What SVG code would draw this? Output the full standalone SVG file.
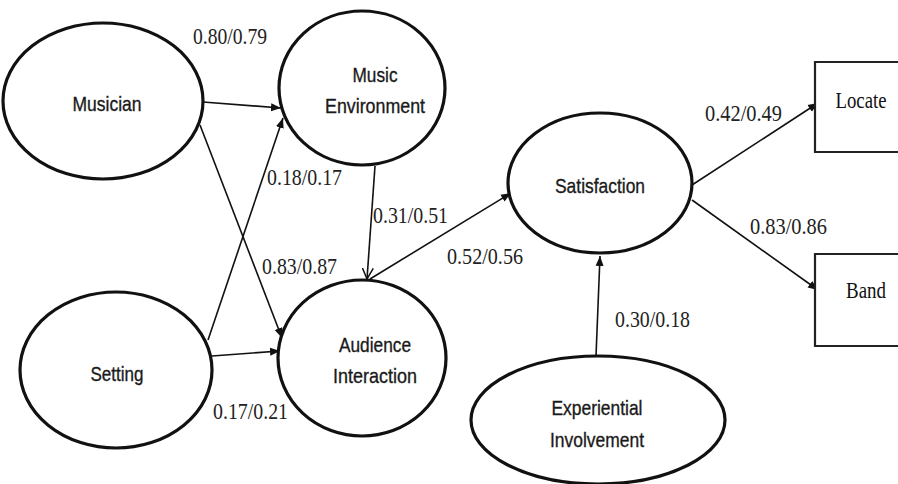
<svg xmlns="http://www.w3.org/2000/svg" width="898" height="484" viewBox="0 0 898 484">
  <style>
    .node ellipse { fill: #fff; stroke: #111; stroke-width: 3.2; }
    .node path { fill: #fff; stroke: #222; stroke-width: 2.2; }
    .lbl { font-family: "Liberation Sans", Arial, sans-serif; font-size: 21px; fill: #1a1a1a; stroke: #1a1a1a; stroke-width: 0.35; text-anchor: middle; }
    .ser { font-family: "Liberation Serif", "Times New Roman", serif; font-size: 23px; fill: #111; text-anchor: middle; }
    .coef { font-family: "Liberation Serif", "Times New Roman", serif; font-size: 24px; fill: #222; }
    #connectors line { stroke: #111; stroke-width: 1.6; fill: none; }
  </style>
  <defs>
    <marker id="tri" viewBox="0 0 10 10" refX="10" refY="5" markerWidth="10" markerHeight="10" markerUnits="userSpaceOnUse" orient="auto">
      <path d="M0,1 L10,5 L0,9 Z" fill="#111"/>
    </marker>
    <marker id="vee" viewBox="0 0 12 12" refX="11" refY="6" markerWidth="12" markerHeight="12" markerUnits="userSpaceOnUse" orient="auto">
      <path d="M0,0.5 L11,6 L0,11.5" fill="none" stroke="#111" stroke-width="1.5"/>
    </marker>
  </defs>
  <rect width="898" height="484" fill="#fff"/>

  <!-- path arrows between constructs -->
  <g id="connectors">
    <line x1="203" y1="102" x2="281" y2="108" marker-end="url(#tri)"/>
    <line x1="208" y1="340" x2="283" y2="118" marker-end="url(#tri)"/>
    <line x1="200" y1="125" x2="282" y2="338" marker-end="url(#tri)"/>
    <line x1="212" y1="356" x2="280" y2="351" marker-end="url(#tri)"/>
    <line x1="375" y1="166" x2="367" y2="279" marker-end="url(#vee)"/>
    <line x1="370" y1="279" x2="511" y2="193" marker-end="url(#tri)"/>
    <line x1="596" y1="356" x2="600" y2="256" marker-end="url(#tri)"/>
    <line x1="692" y1="185" x2="818" y2="103" marker-end="url(#tri)"/>
    <line x1="692" y1="200" x2="818" y2="290" marker-end="url(#tri)"/>
  </g>

  <g id="musician" class="node">
    <ellipse cx="103" cy="101" rx="100" ry="78"/>
    <text class="lbl" x="107" y="111" textLength="69" lengthAdjust="spacingAndGlyphs">Musician</text>
  </g>
  <g id="music-environment" class="node">
    <ellipse cx="362" cy="88" rx="83" ry="77"/>
    <text class="lbl" x="375" y="82" textLength="45" lengthAdjust="spacingAndGlyphs">Music</text>
    <text class="lbl" x="375" y="113" textLength="100" lengthAdjust="spacingAndGlyphs">Environment</text>
  </g>
  <g id="setting" class="node">
    <ellipse cx="116" cy="370" rx="96" ry="78"/>
    <text class="lbl" x="117" y="381" textLength="53" lengthAdjust="spacingAndGlyphs">Setting</text>
  </g>
  <g id="audience-interaction" class="node">
    <ellipse cx="362" cy="358" rx="84" ry="78"/>
    <text class="lbl" x="375" y="352" textLength="72" lengthAdjust="spacingAndGlyphs">Audience</text>
    <text class="lbl" x="375" y="383" textLength="84" lengthAdjust="spacingAndGlyphs">Interaction</text>
  </g>
  <g id="satisfaction" class="node">
    <ellipse cx="600" cy="183" rx="92" ry="70"/>
    <text class="lbl" x="600" y="193" textLength="90" lengthAdjust="spacingAndGlyphs">Satisfaction</text>
  </g>
  <g id="experiential-involvement" class="node">
    <ellipse cx="598" cy="420" rx="127" ry="64"/>
    <text class="lbl" x="597" y="415" textLength="91" lengthAdjust="spacingAndGlyphs">Experiential</text>
    <text class="lbl" x="597" y="447" textLength="94" lengthAdjust="spacingAndGlyphs">Involvement</text>
  </g>
  <!-- indicator boxes: the right side is left open at the canvas edge -->
  <g id="locate" class="node">
    <path d="M898,62 H815 V152 H898"/>
    <text class="ser" x="861" y="108" textLength="51" lengthAdjust="spacingAndGlyphs">Locate</text>
  </g>
  <g id="band" class="node">
    <path d="M898,254 H815 V346 H898"/>
    <text class="ser" x="866" y="298" textLength="40" lengthAdjust="spacingAndGlyphs">Band</text>
  </g>

  <!-- path coefficients -->
  <g id="coefficients">
    <text class="coef" x="193" y="44" textLength="74" lengthAdjust="spacingAndGlyphs">0.80/0.79</text>
    <text class="coef" x="267" y="185" textLength="75" lengthAdjust="spacingAndGlyphs">0.18/0.17</text>
    <text class="coef" x="373" y="223" textLength="75" lengthAdjust="spacingAndGlyphs">0.31/0.51</text>
    <text class="coef" x="262" y="274" textLength="75" lengthAdjust="spacingAndGlyphs">0.83/0.87</text>
    <text class="coef" x="213" y="419" textLength="75" lengthAdjust="spacingAndGlyphs">0.17/0.21</text>
    <text class="coef" x="447" y="264" textLength="76" lengthAdjust="spacingAndGlyphs">0.52/0.56</text>
    <text class="coef" x="615" y="327" textLength="75" lengthAdjust="spacingAndGlyphs">0.30/0.18</text>
    <text class="coef" x="705" y="121" textLength="77" lengthAdjust="spacingAndGlyphs">0.42/0.49</text>
    <text class="coef" x="750" y="234" textLength="77" lengthAdjust="spacingAndGlyphs">0.83/0.86</text>
  </g>
</svg>
